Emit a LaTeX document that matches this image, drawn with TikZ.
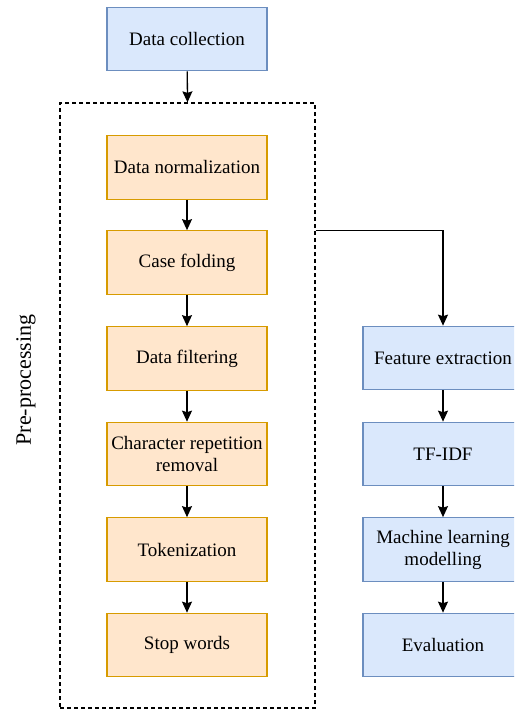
\documentclass[tikz,border=0pt]{standalone}
\usepackage{fontspec}
\setmainfont{Liberation Serif}
\usetikzlibrary{arrows.meta,positioning}
\definecolor{bluefill}{HTML}{DAE8FC}
\definecolor{bluedraw}{HTML}{6C8EBF}
\definecolor{orfill}{HTML}{FFE6CC}
\definecolor{ordraw}{HTML}{D79B00}
\begin{document}
\begin{tikzpicture}[x=1pt,y=-1pt,
  box/.style={rectangle,minimum width=160pt,minimum height=63.5pt,line width=1.2pt,align=center,inner sep=2pt,font=\fontsize{19}{22}\selectfont},
  bluebox/.style={box,fill=bluefill,draw=bluedraw},
  orbox/.style={box,fill=orfill,draw=ordraw},
  arr/.style={line width=1.3pt,-{Stealth[length=11pt,width=10pt,inset=1.5pt]}},
  dashbox/.style={draw,line width=1.3pt,dash pattern=on 4pt off 3pt,minimum width=255pt,minimum height=605pt,inner sep=0pt}
]
\useasboundingbox (0,0) rectangle (514,711);
\clip (0,0) rectangle (514,711);
\node[bluebox] (dc) at (187,39) {Data collection};
\node[dashbox] (pre) at (187.5,405.5) {};
\node[rotate=90,font=\fontsize{22}{26}\selectfont] (lbl) at (26,380) {Pre-processing};
\node[orbox] (dn) at (187,167.5) {Data normalization};
\node[orbox] (cf) at (187,262.5) {Case folding};
\node[orbox] (df) at (187,358.5) {Data filtering};
\node[orbox] (cr) at (187,454) {Character repetition\\removal};
\node[orbox] (tk) at (187,549.5) {Tokenization};
\node[orbox] (sw) at (187,645) {Stop words};
\node[bluebox] (fe) at (443,358) {Feature extraction};
\node[bluebox] (tf) at (443,454) {TF-IDF};
\node[bluebox] (ml) at (443,549.5) {Machine learning\\modelling};
\node[bluebox] (ev) at (443,645) {Evaluation};
\draw[arr] (dc) -- (pre.north);
\draw[arr] (dn) -- (cf);
\draw[arr] (cf) -- (df);
\draw[arr] (df) -- (cr);
\draw[arr] (cr) -- (tk);
\draw[arr] (tk) -- (sw);
\draw[arr] (pre.east |- cf.north) -| (fe.north);
\draw[arr] (fe) -- (tf);
\draw[arr] (tf) -- (ml);
\draw[arr] (ml) -- (ev);
\end{tikzpicture}
\end{document}
